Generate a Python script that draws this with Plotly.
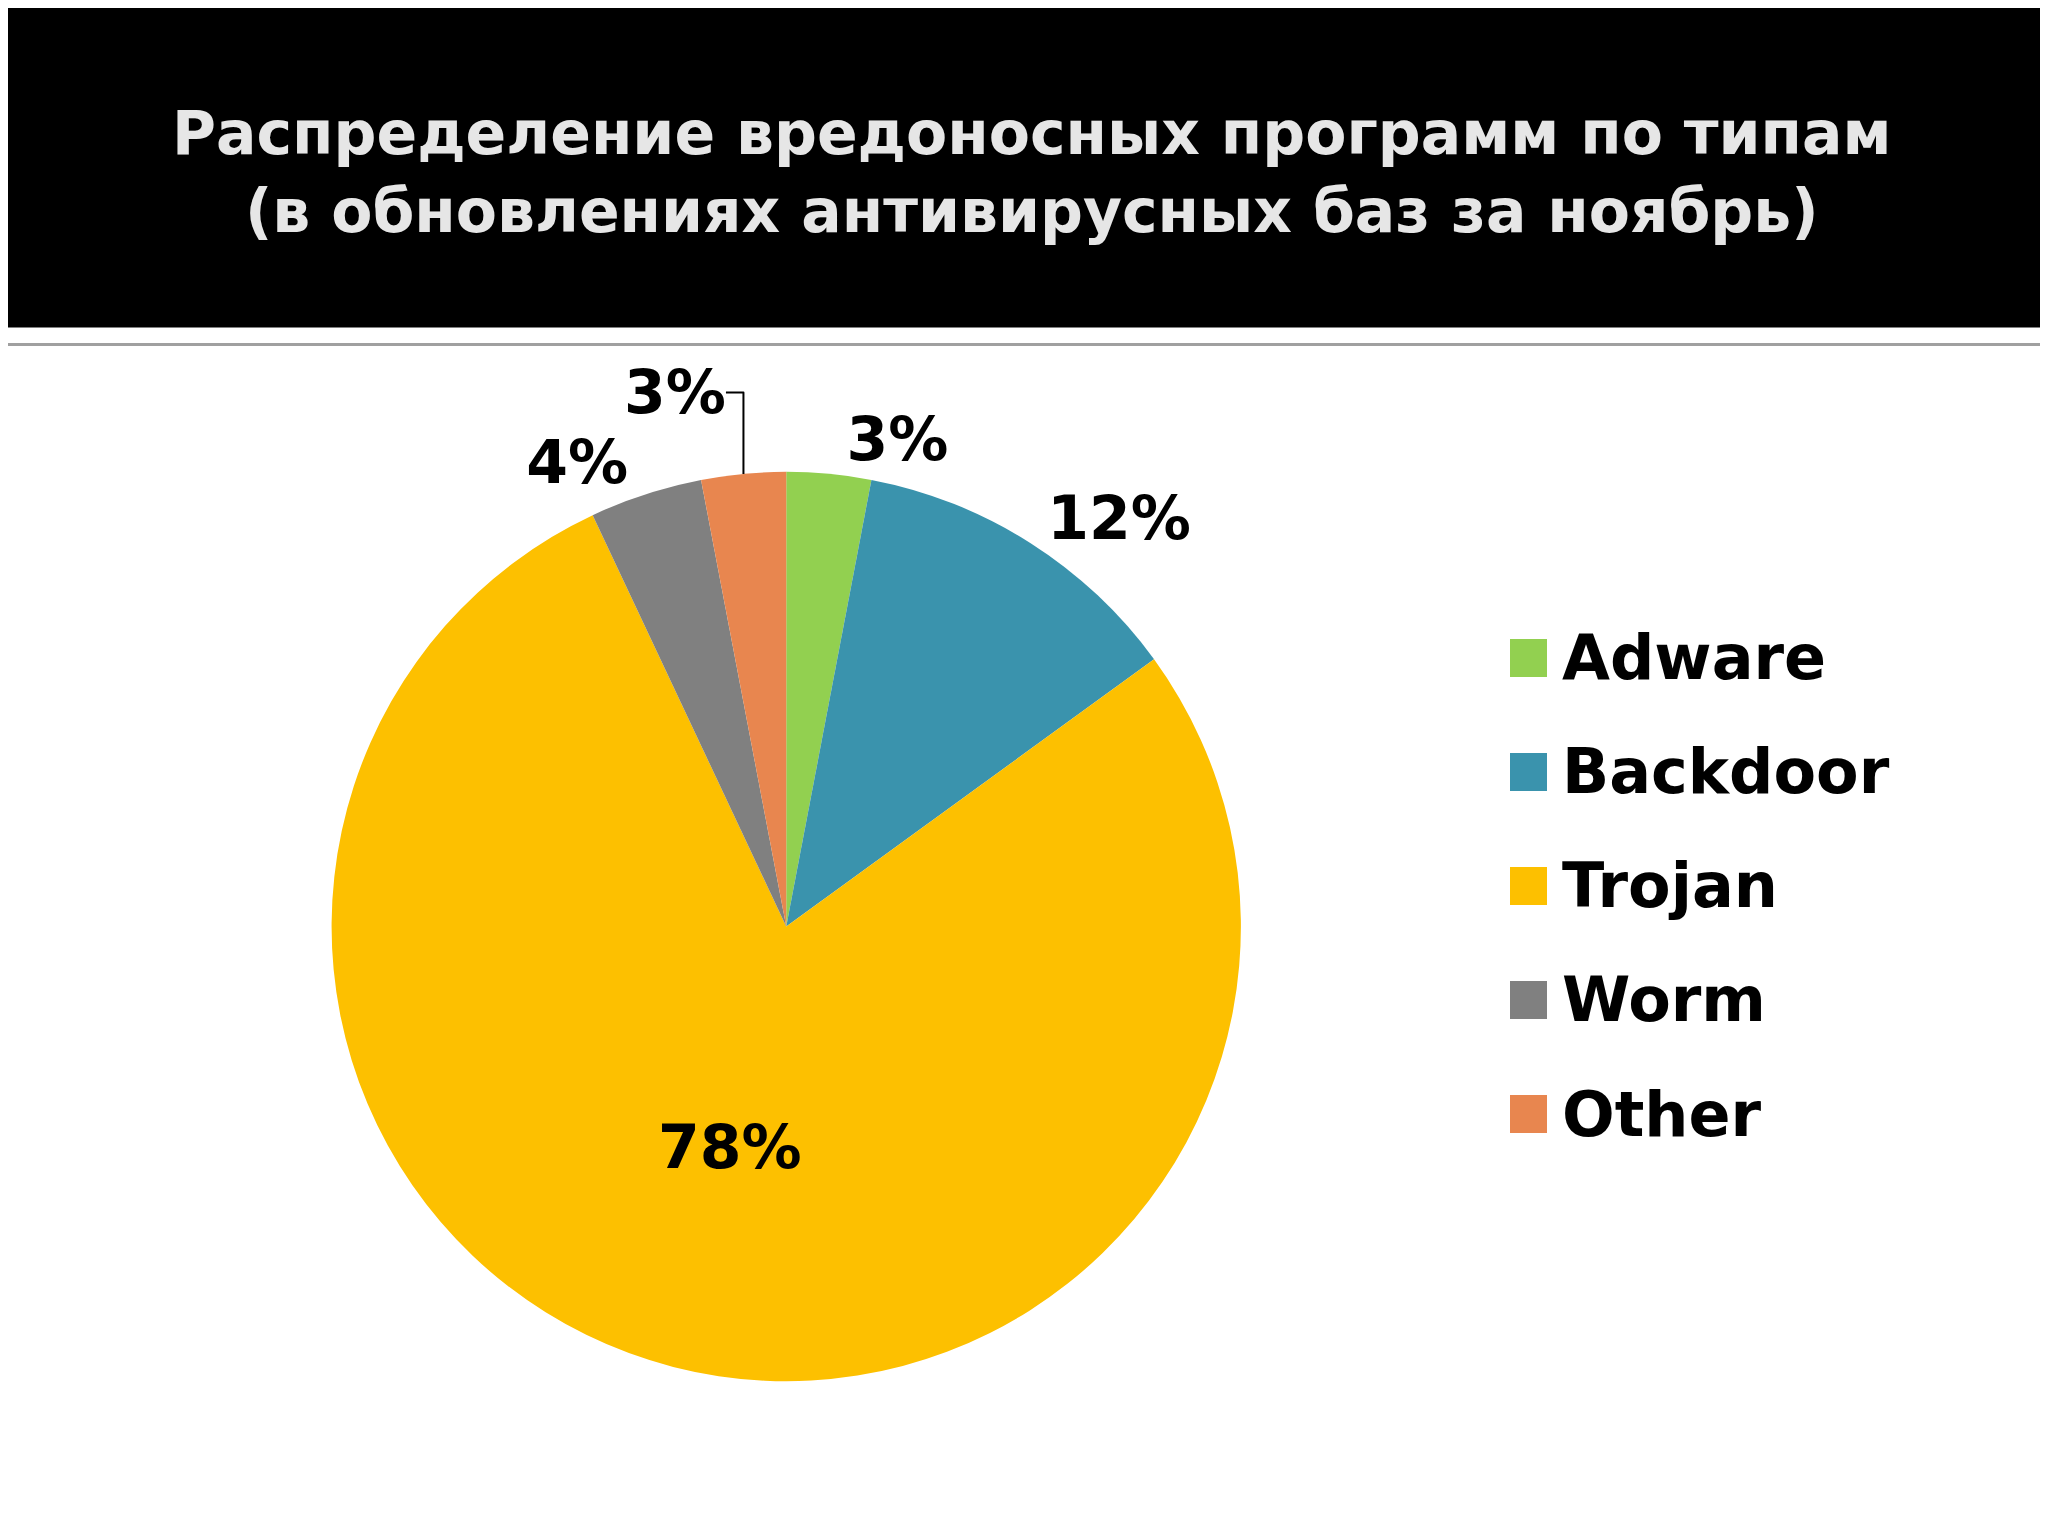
import plotly.graph_objects as go

labels = ["Adware", "Backdoor", "Trojan", "Worm", "Other"]
values = [3, 12, 78, 4, 3]
colors = ["#92d050", "#3a93ad", "#fdc000", "#808080", "#e8864f"]
positions = ["outside", "outside", "inside", "outside", "outside"]

fig = go.Figure(go.Pie(
    labels=labels, values=values, sort=False, direction="clockwise", rotation=0,
    marker=dict(colors=colors, line=dict(color="white", width=0)),
    texttemplate="%{percent:.0%}", textposition=positions,
    textfont=dict(family="DejaVu Sans", size=60, color="black", weight="bold"),
    insidetextorientation="horizontal", automargin=False, showlegend=False,
    domain=dict(x=[0.158, 0.602], y=[0.106, 0.698]),
))

shapes = [
    dict(type="rect", xref="paper", yref="paper", x0=-0.01, x1=1.01, y0=0.792, y1=1.01,
         fillcolor="black", line=dict(width=0), layer="below"),
    dict(type="line", xref="paper", yref="paper", x0=0, x1=1, y0=0.781, y1=0.781,
         line=dict(color="#a0a0a0", width=3)),
]
annotations = [
    dict(text="Распределение вредоносных программ по типам<br>(в обновлениях антивирусных баз за ноябрь)",
         xref="paper", yref="paper", x=0.5, y=0.893, showarrow=False,
         font=dict(family="DejaVu Sans", size=60, color="#e6e6e6", weight="bold"),
         align="center", xanchor="center", yanchor="middle"),
]
# custom legend built from labels/colors
y0 = 1 - 650 / 1536
step = 114 / 1536
for i, (lab, col) in enumerate(zip(labels, colors)):
    yc = y0 - i * step
    shapes.append(dict(type="rect", xref="paper", yref="paper",
                       x0=1502 / 2048, x1=1539 / 2048, y0=yc - 19 / 1536, y1=yc + 19 / 1536,
                       fillcolor=col, line=dict(width=0)))
    annotations.append(dict(text=lab, xref="paper", yref="paper", x=1552 / 2048, y=yc,
                            xanchor="left", yanchor="middle", showarrow=False,
                            font=dict(family="DejaVu Sans", size=62, color="black", weight="bold")))

fig.update_layout(
    width=2048, height=1536, margin=dict(l=0, r=0, t=0, b=0),
    paper_bgcolor="white", plot_bgcolor="white", showlegend=False,
    uniformtext=dict(minsize=60, mode="show"),
    shapes=shapes, annotations=annotations,
)
fig.write_html("out.html")
